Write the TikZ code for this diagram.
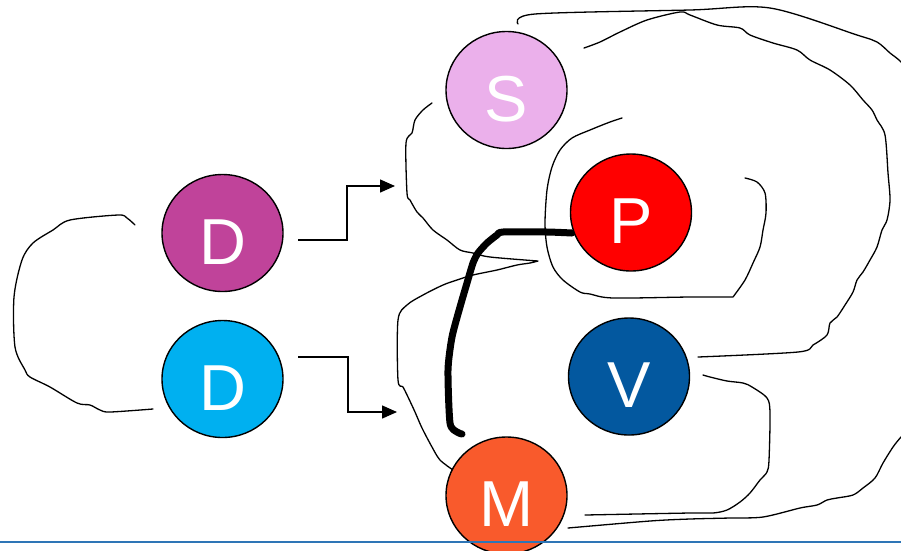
\documentclass[tikz,border=0pt]{standalone}
\usepackage{fontspec}
\setmainfont{Liberation Sans}
\usetikzlibrary{shapes.geometric,arrows.meta}
\definecolor{cS}{HTML}{EBB0EB}
\definecolor{cP}{HTML}{FF0000}
\definecolor{cDa}{HTML}{C0439A}
\definecolor{cDb}{HTML}{00B0F0}
\definecolor{cV}{HTML}{03589F}
\definecolor{cM}{HTML}{F95A2C}
\definecolor{cLine}{HTML}{2E75B6}
\tikzset{
  circ/.style={ellipse, draw=black, line width=1.4pt, minimum width=121pt, minimum height=117pt,
    inner sep=0pt, text=white, font=\fontsize{65}{65}\selectfont, text height=62pt, text depth=0pt},
  hand/.style={draw=black, line width=1.3pt, line cap=round, line join=round},
  flow/.style={draw=black, line width=1.4pt, -{Triangle[length=15pt,width=13pt]}},
  thick stroke/.style={draw=black, line width=7pt, line cap=round, line join=round},
}
\begin{document}
\begin{tikzpicture}[x=1pt,y=-1pt]
\useasboundingbox (0,0) rectangle (901,550);
\clip (0,0) rectangle (901,550);
\fill[white] (0,0) rectangle (901,550);

% freehand curves
\draw[hand] plot[smooth,tension=0.5] coordinates {(135,225) (127,218) (118,215) (70,220) (53,230) (33,243) (22,260) (14,297) (15,347) (25,370) (30,377) (50,387) (77,403) (90,405) (100,410) (110,412) (153,409)};
\draw[hand] plot[smooth,tension=0.5] coordinates {(432,103) (423,110) (415,120) (412,133) (406,143) (407,193) (410,200) (417,212) (423,218) (433,230) (447,240) (460,250) (473,253) (490,257) (538,261)}
  plot[smooth,tension=0.5] coordinates {(538,261) (530,263) (517,265) (497,270) (473,275) (457,280) (443,285) (423,295) (407,305) (398,320) (398,380) (403,387) (408,397) (415,412) (422,428) (432,447) (440,460) (453,470)};
\draw[hand] plot[smooth,tension=0.5] coordinates {(518,24) (535,14) (690,10) (770,8) (857,35) (877,42) (890,53) (901,62) (915,80) (925,150) (925,350) (912,425) (901,437) (893,447) (883,463) (875,478) (863,488) (853,495) (837,498) (827,500) (817,505) (800,508) (763,517) (730,518) (690,519) (650,521) (568,528)};
\draw[hand] plot[smooth,tension=0.5] coordinates {(584,48) (600,42) (620,32) (647,20) (680,12) (690,15) (717,25) (740,28) (750,35) (773,43) (797,50) (810,60) (830,70) (850,85) (863,100) (872,110) (877,120) (885,135) (888,173) (890,200) (887,220) (882,230) (877,247) (870,260) (863,272) (857,280) (853,292) (845,305) (837,317) (830,323) (827,335) (813,345) (798,352) (698,357)};
\draw[hand] plot[smooth,tension=0.5] coordinates {(622,118) (610,122) (590,130) (572,138) (560,150) (552,167) (547,190) (545,223) (547,247) (553,267) (563,280) (580,292) (590,294) (613,298) (690,297) (733,297)}
  plot[smooth,tension=0.5] coordinates {(733,297) (745,280) (753,263) (760,247) (763,230) (766,213) (765,193) (757,182) (745,178)};
\draw[hand] plot[smooth,tension=0.5] coordinates {(703,375) (710,377) (727,381) (743,383) (752,387) (767,398) (770,413) (769,460) (767,472) (760,480) (750,493) (740,502) (727,510) (713,513) (690,513) (585,515)};

% thick stroke
\draw[thick stroke] plot[smooth,tension=0.4] coordinates {(572,233) (547,232) (503,232) (497,235) (487,243) (478,253) (473,263) (467,283) (460,307) (452,337) (448,370) (450,423) (457,432) (462,434)};

% nodes
\node[circ, fill=cS] (S) at (506.5,90) {S};
\node[circ, fill=cP] (P) at (631,212.5) {P};
\node[circ, fill=cDa] (D1) at (222.5,233) {D};
\node[circ, fill=cDb] (D2) at (222.5,379) {D};
\node[circ, fill=cV] (V) at (629,376.5) {V};
\node[circ, fill=cM] (M) at (506.5,495.5) {M};

% arrows
\coordinate (a1s) at (298,240);
\coordinate (a1e) at (395,186);
\coordinate (a2s) at (298,357);
\coordinate (a2e) at (397,412);
\draw[flow] (a1s) -- (347,240) |- (a1e);
\draw[flow] (a2s) -- (348,357) |- (a2e);

% bottom rule
\draw[cLine, line width=1.5pt] (0,542) -- (901,542);
\end{tikzpicture}
\end{document}
